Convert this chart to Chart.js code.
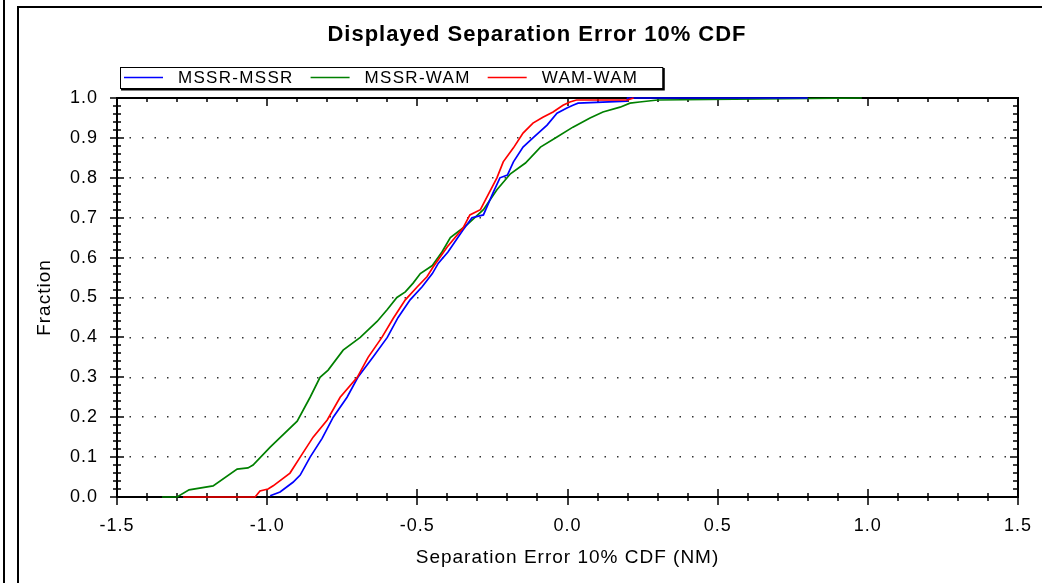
<!DOCTYPE html>
<html>
<head>
<meta charset="utf-8">
<title>Displayed Separation Error 10% CDF</title>
<script src="https://cdn.jsdelivr.net/npm/chart.js@4/dist/chart.umd.min.js"></script>
<style>
    html, body { margin: 0; padding: 0; background: #fff; }
    #wrap { position: relative; width: 1042px; height: 583px; }
</style>
</head>
<body>
<div id="wrap"><canvas id="cdfChart"></canvas></div>
<script>
// series names
const seriesNames = ['MSSR-MSSR', 'MSSR-WAM', 'WAM-WAM'];

// MSSR-MSSR (blue)
const mssrMssrX = [-0.99, -0.957, -0.914, -0.89, -0.857, -0.817, -0.78, -0.734, -0.698, -0.648, -0.60, -0.564, -0.524, -0.484, -0.45, -0.43, -0.398, -0.348, -0.318, -0.28, -0.248, -0.225, -0.20, -0.18, -0.148, -0.115, -0.068, -0.035, -0.002, 0.018, 0.035, 0.198, 0.20, 0.80];
const mssrMssrY = [0.003, 0.0125, 0.037, 0.055, 0.10, 0.147, 0.20, 0.25, 0.30, 0.35, 0.40, 0.45, 0.494, 0.527, 0.56, 0.586, 0.614, 0.669, 0.70, 0.707, 0.762, 0.80, 0.807, 0.84, 0.877, 0.90, 0.932, 0.962, 0.975, 0.982, 0.987, 0.992, 1.0, 1.0];

// MSSR-WAM (green)
const mssrWamX = [-1.35, -1.30, -1.26, -1.18, -1.10, -1.064, -1.047, -0.99, -0.90, -0.857, -0.824, -0.797, -0.747, -0.69, -0.634, -0.60, -0.568, -0.54, -0.514, -0.49, -0.45, -0.418, -0.39, -0.335, -0.28, -0.235, -0.19, -0.14, -0.09, -0.035, 0.018, 0.075, 0.118, 0.175, 0.208, 0.24, 0.30, 0.98];
const mssrWamY = [0, 0, 0.018, 0.028, 0.07, 0.073, 0.08, 0.125, 0.19, 0.25, 0.30, 0.318, 0.368, 0.40, 0.44, 0.47, 0.50, 0.514, 0.536, 0.56, 0.58, 0.614, 0.65, 0.682, 0.72, 0.77, 0.81, 0.837, 0.877, 0.902, 0.927, 0.95, 0.965, 0.977, 0.987, 0.99, 0.995, 1.0];

// WAM-WAM (red)
const wamWamX = [-1.28, -1.04, -1.024, -0.997, -0.98, -0.924, -0.89, -0.847, -0.80, -0.757, -0.70, -0.664, -0.618, -0.58, -0.54, -0.50, -0.468, -0.448, -0.40, -0.348, -0.325, -0.29, -0.268, -0.235, -0.214, -0.18, -0.148, -0.115, -0.082, -0.048, -0.015, 0.008, 0.03, 0.20, 0.22];
const wamWamY = [0, 0, 0.015, 0.02, 0.028, 0.06, 0.10, 0.15, 0.193, 0.25, 0.30, 0.35, 0.40, 0.448, 0.494, 0.527, 0.552, 0.576, 0.627, 0.674, 0.707, 0.72, 0.752, 0.80, 0.84, 0.875, 0.912, 0.937, 0.952, 0.965, 0.982, 0.99, 0.995, 0.995, 1.0];

// axis ticks
const xTicks = [-1.5, -1.0, -0.5, 0.0, 0.5, 1.0, 1.5];
const yTicks = [0.0, 0.1, 0.2, 0.3, 0.4, 0.5, 0.6, 0.7, 0.8, 0.9, 1.0];

const colors = ['#0000ff', '#008000', '#ff0000'];
const fontFamily = '"Liberation Sans", Arial, sans-serif';

function toPoints(xs, ys) {
    return xs.map((x, i) => ({ x: x, y: ys[i] }));
}

// outer frame, plot box, tick marks and legend box
const framePlugin = {
    id: 'frame',
    beforeDraw(chart) {
        const ctx = chart.ctx;
        // the original text is drawn wide, spread it a little
        ctx.letterSpacing = '1px';
        ctx.save();
        ctx.fillStyle = '#fff';
        ctx.fillRect(0, 0, chart.width, chart.height);
        ctx.strokeStyle = '#000';
        ctx.lineWidth = 2;
        ctx.beginPath();
        ctx.moveTo(4, 0); ctx.lineTo(4, chart.height);
        ctx.moveTo(18, chart.height); ctx.lineTo(18, 7); ctx.lineTo(chart.width, 7);
        ctx.stroke();
        ctx.restore();
    },
    beforeDatasetsDraw(chart) {
        const ctx = chart.ctx;
        const a = chart.chartArea;
        const xs = chart.scales.x, ys = chart.scales.y;
        ctx.save();
        ctx.strokeStyle = '#000';
        ctx.lineWidth = 2;
        ctx.strokeRect(a.left, a.top, a.right - a.left, a.bottom - a.top);
        ctx.lineWidth = 1.5;
        ctx.beginPath();
        // x ticks every 0.1, majors every 0.5
        for (let i = -15; i <= 15; i++) {
            const px = Math.round(xs.getPixelForValue(i / 10));
            const major = i % 5 === 0;
            const l = major ? 8 : 4;
            ctx.moveTo(px, a.bottom - l); ctx.lineTo(px, a.bottom + l);
            ctx.moveTo(px, a.top); ctx.lineTo(px, a.top + (major ? 8 : 4));
        }
        // y ticks every 0.02, majors every 0.1
        for (let j = 0; j <= 50; j++) {
            const py = Math.round(ys.getPixelForValue(j / 50));
            const major = j % 5 === 0;
            const l = major ? 7 : 4;
            ctx.moveTo(a.left - l, py); ctx.lineTo(a.left + l, py);
            ctx.moveTo(a.right - (major ? 8 : 5), py); ctx.lineTo(a.right, py);
        }
        ctx.stroke();
        ctx.restore();
    },
    afterDraw(chart) {
        const ctx = chart.ctx;
        const a = chart.chartArea;
        ctx.save();
        ctx.font = '17px ' + fontFamily;
        ctx.letterSpacing = '1.3px';
        ctx.textBaseline = 'middle';
        const lx = a.left + 3, ly = 67, lh = 21;
        let cx = lx + 4;
        const cy = ly + lh / 2;
        chart.data.datasets.forEach((ds) => {
            ctx.strokeStyle = ds.borderColor;
            ctx.lineWidth = 1.5;
            ctx.beginPath();
            ctx.moveTo(cx, cy); ctx.lineTo(cx + 39, cy);
            ctx.stroke();
            cx += 54;
            ctx.fillStyle = '#000';
            ctx.fillText(ds.label, cx, cy + 1);
            cx += ctx.measureText(ds.label).width + 17;
        });
        const lw = cx - lx + 7;
        ctx.strokeStyle = '#000';
        ctx.lineWidth = 1;
        ctx.strokeRect(lx + 0.5, ly + 0.5, lw, lh);
        ctx.lineWidth = 2;
        ctx.beginPath();
        ctx.moveTo(lx + 1, ly + lh + 1.5); ctx.lineTo(lx + lw + 1.5, ly + lh + 1.5); ctx.lineTo(lx + lw + 1.5, ly + 1);
        ctx.stroke();
        ctx.restore();
    }
};

const data = {
    datasets: [
        { label: seriesNames[0], data: toPoints(mssrMssrX, mssrMssrY), borderColor: colors[0], backgroundColor: colors[0], order: 2 },
        { label: seriesNames[1], data: toPoints(mssrWamX, mssrWamY), borderColor: colors[1], backgroundColor: colors[1], order: 3 },
        { label: seriesNames[2], data: toPoints(wamWamX, wamWamY), borderColor: colors[2], backgroundColor: colors[2], order: 1 }
    ]
};

const tickFont = { family: fontFamily, size: 18 };

const config = {
    type: 'line',
    data: data,
    options: {
        responsive: true,
        maintainAspectRatio: false,
        animation: false,
        // left padding shifts the centred title to where the original has it
        layout: { padding: { left: 56, right: 24, top: 0, bottom: 0 } },
        elements: {
            point: { radius: 0 },
            line: { borderWidth: 1.7, tension: 0, fill: false }
        },
        datasets: {
            line: { clip: 4 }
        },
        plugins: {
            legend: { display: false },
            tooltip: { enabled: false },
            title: {
                display: true,
                text: 'Displayed Separation Error 10% CDF',
                color: '#000',
                font: { family: fontFamily, size: 22, weight: 'bold', lineHeight: 1.2 },
                padding: { top: 22, bottom: 49.6 }
            }
        },
        scales: {
            x: {
                type: 'linear',
                min: -1.5,
                max: 1.5,
                afterBuildTicks: (scale) => { scale.ticks = xTicks.map(v => ({ value: v })); },
                afterFit: (scale) => {
                    scale.height = 86;
                    scale.paddingLeft = 0;
                    scale.paddingRight = 0;
                },
                ticks: {
                    color: '#000',
                    font: tickFont,
                    padding: 18,
                    maxRotation: 0,
                    callback: (v) => Number(v).toFixed(1)
                },
                grid: { display: false, drawTicks: false },
                border: { display: false },
                title: {
                    display: true,
                    text: 'Separation Error 10% CDF (NM)',
                    color: '#000',
                    font: { family: fontFamily, size: 19 },
                    padding: { top: 0, bottom: 14 }
                }
            },
            y: {
                min: 0,
                max: 1,
                afterBuildTicks: (scale) => { scale.ticks = yTicks.map(v => ({ value: v })); },
                afterFit: (scale) => {
                    scale.width = 61;
                    scale.paddingTop = 0;
                    scale.paddingBottom = 0;
                },
                ticks: {
                    color: '#000',
                    font: tickFont,
                    padding: 19,
                    callback: (v) => Number(v).toFixed(1)
                },
                grid: { color: '#333', lineWidth: 1.5, drawTicks: false },
                border: { display: false, dash: [1.5, 11] },
                title: {
                    display: true,
                    text: 'Fraction',
                    color: '#000',
                    font: { family: fontFamily, size: 19 },
                    padding: { top: -23, bottom: 0 }
                }
            }
        }
    },
    plugins: [framePlugin]
};

const cdfChart = new Chart(document.getElementById('cdfChart'), config);
</script>
</body>
</html>
